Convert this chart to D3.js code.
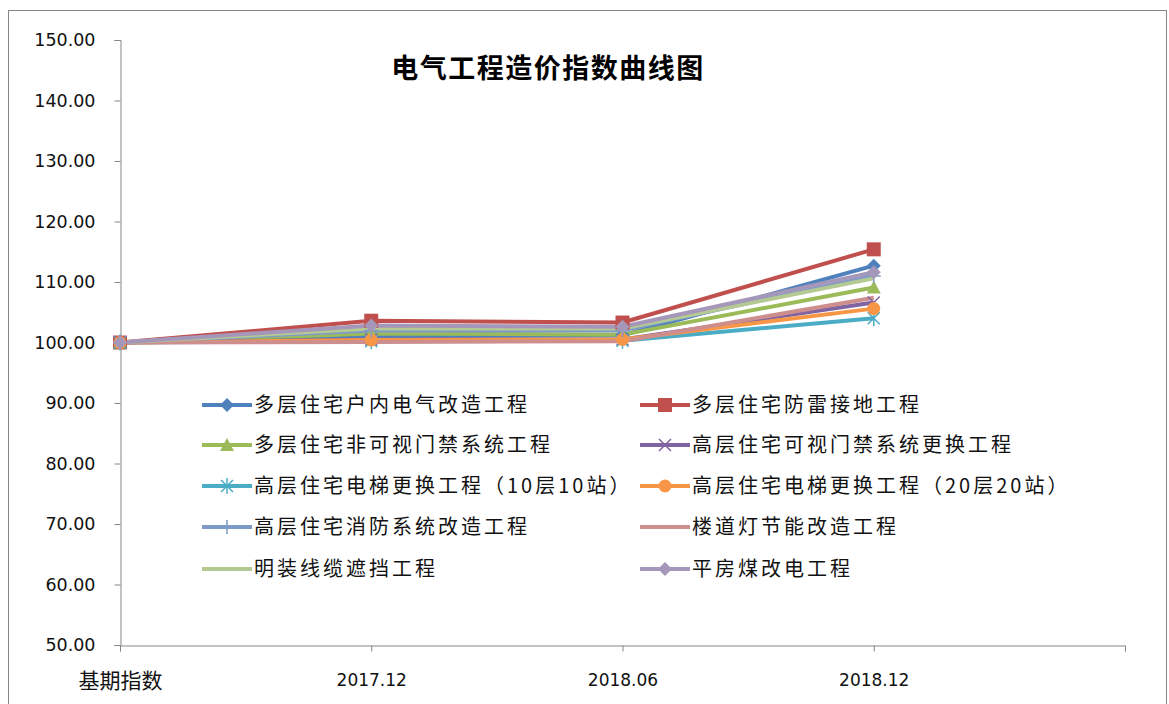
<!DOCTYPE html>
<html>
<head>
<meta charset="utf-8">
<script src="https://cdn.jsdelivr.net/npm/d3@7.9.0/dist/d3.min.js"></script>
<style>
  body { margin: 0; background: #fff; }
  svg { display: block; }
</style>
</head>
<body>
<div id="chart"></div>
<script>
// categories on the x axis (last slot is empty, as in the original)
const categories = ['基期指数', '2017.12', '2018.06', '2018.12', ''];

const seriesNames = [
  '多层住宅户内电气改造工程',
  '多层住宅防雷接地工程',
  '多层住宅非可视门禁系统工程',
  '高层住宅可视门禁系统更换工程',
  '高层住宅电梯更换工程（10层10站）',
  '高层住宅电梯更换工程（20层20站）',
  '高层住宅消防系统改造工程',
  '楼道灯节能改造工程',
  '明装线缆遮挡工程',
  '平房煤改电工程'
];

// index values
const seriesValues = [
  [100, 101.0, 101.2, 112.7],
  [100, 103.6, 103.3, 115.4],
  [100, 101.5, 101.3, 109.1],
  [100, 100.5, 100.5, 106.6],
  [100, 100.2, 100.3, 104.0],
  [100, 100.4, 100.5, 105.6],
  [100, 102.0, 102.0, 111.0],
  [100, 100.1, 100.2, 107.4],
  [100, 102.3, 102.3, 110.6],
  [100, 102.8, 102.6, 111.6]
];

const seriesColors = ['#4F81BD', '#C0504D', '#9BBB59', '#8064A2', '#4BACC6',
                      '#F79646', '#7E9BC8', '#CE8E8D', '#B5CA92', '#A597BA'];
const seriesMarkers = ['diamond', 'square', 'triangle', 'x', 'star',
                       'circle', 'plus', 'none', 'none', 'diamond'];

const yTicks = [50, 60, 70, 80, 90, 100, 110, 120, 130, 140, 150];

const W = 1169, H = 704;
const svg = d3.select('#chart').append('svg')
  .attr('width', W).attr('height', H);

// outer chart border
svg.append('rect')
  .attr('x', 8.5).attr('y', 10.5)
  .attr('width', 1158).attr('height', 700)
  .attr('fill', '#fff').attr('stroke', '#868686').attr('stroke-width', 1);

const x = d3.scalePoint().domain(categories.map((c, i) => i)).range([120, 1125]);
const y = d3.scaleLinear().domain([50, 150]).range([645, 40]);

// axes
const yAxis = svg.append('g')
  .attr('transform', 'translate(120.5,0)')
  .call(d3.axisLeft(y).tickValues(yTicks).tickSize(6).tickPadding(19)
    .tickFormat(d => d3.format('.2f')(d)));
yAxis.selectAll('text')
  .attr('font-family', 'DejaVu Sans, sans-serif')
  .attr('font-size', 17.5).attr('fill', '#111');

const xAxis = svg.append('g')
  .attr('transform', 'translate(0,645.5)')
  .call(d3.axisBottom(x).tickSize(6).tickPadding(22).tickFormat(i => categories[i]));
xAxis.selectAll('text')
  .attr('font-family', 'DejaVu Sans, "Noto Sans CJK SC", sans-serif')
  .attr('font-size', (d, i) => i === 0 ? 21 : 17)
  .attr('fill', '#111');

[yAxis, xAxis].forEach(g => {
  g.select('.domain').attr('stroke', '#868686');
  g.selectAll('.tick line').attr('stroke', '#868686');
});

// title
svg.append('text')
  .attr('x', 548).attr('y', 78)
  .attr('text-anchor', 'middle')
  .attr('font-family', '"Noto Sans CJK SC", sans-serif')
  .attr('font-size', 27).attr('font-weight', 'bold')
  .attr('letter-spacing', 1.5)
  .text('电气工程造价指数曲线图');

function drawMarker(g, type, cx, cy, color) {
  const s = 7;
  if (type === 'diamond') {
    g.append('path').attr('d', `M${cx},${cy - s}L${cx + s},${cy}L${cx},${cy + s}L${cx - s},${cy}Z`)
      .attr('fill', color);
  } else if (type === 'square') {
    g.append('rect').attr('x', cx - 7).attr('y', cy - 7).attr('width', 14).attr('height', 14)
      .attr('fill', color);
  } else if (type === 'triangle') {
    g.append('path').attr('d', `M${cx},${cy - 7}L${cx + 7},${cy + 6}L${cx - 7},${cy + 6}Z`)
      .attr('fill', color);
  } else if (type === 'circle') {
    g.append('circle').attr('cx', cx).attr('cy', cy).attr('r', 6.5).attr('fill', color);
  } else if (type === 'x') {
    g.append('path').attr('d', `M${cx - 6},${cy - 6}L${cx + 6},${cy + 6}M${cx - 6},${cy + 6}L${cx + 6},${cy - 6}`)
      .attr('stroke', color).attr('stroke-width', 1.5);
  } else if (type === 'star') {
    g.append('path').attr('d', `M${cx - 6},${cy - 6}L${cx + 6},${cy + 6}M${cx - 6},${cy + 6}L${cx + 6},${cy - 6}M${cx},${cy - 8}L${cx},${cy + 8}`)
      .attr('stroke', color).attr('stroke-width', 1.5);
  } else if (type === 'plus') {
    g.append('path').attr('d', `M${cx - 7},${cy}L${cx + 7},${cy}M${cx},${cy - 7}L${cx},${cy + 7}`)
      .attr('stroke', color).attr('stroke-width', 1.5);
  }
}

// lines
const line = d3.line().x((d, i) => x(i)).y(d => y(d));
const plot = svg.append('g');
seriesValues.forEach((vals, s) => {
  plot.append('path')
    .datum(vals)
    .attr('fill', 'none')
    .attr('stroke', seriesColors[s])
    .attr('stroke-width', 4)
    .attr('stroke-linejoin', 'round')
    .attr('d', line);
});
seriesValues.forEach((vals, s) => {
  vals.forEach((v, i) => drawMarker(plot, seriesMarkers[s], x(i), y(v), seriesColors[s]));
});

// legend, two columns
const legend = svg.append('g');
const colX = [202, 640];
const rowY = [405, 445, 486, 527, 569];
seriesNames.forEach((name, s) => {
  const lx = colX[s % 2], ly = rowY[Math.floor(s / 2)];
  const item = legend.append('g');
  item.append('line')
    .attr('x1', lx).attr('x2', lx + 50).attr('y1', ly).attr('y2', ly)
    .attr('stroke', seriesColors[s]).attr('stroke-width', 4);
  drawMarker(item, seriesMarkers[s], lx + 25, ly, seriesColors[s]);
  item.append('text')
    .attr('x', lx + 52).attr('y', ly + 7)
    .attr('font-family', '"Noto Sans CJK SC", sans-serif')
    .attr('font-size', 20)
    .attr('letter-spacing', 3)
    .attr('fill', '#111')
    .text(name);
});
</script>
</body>
</html>
